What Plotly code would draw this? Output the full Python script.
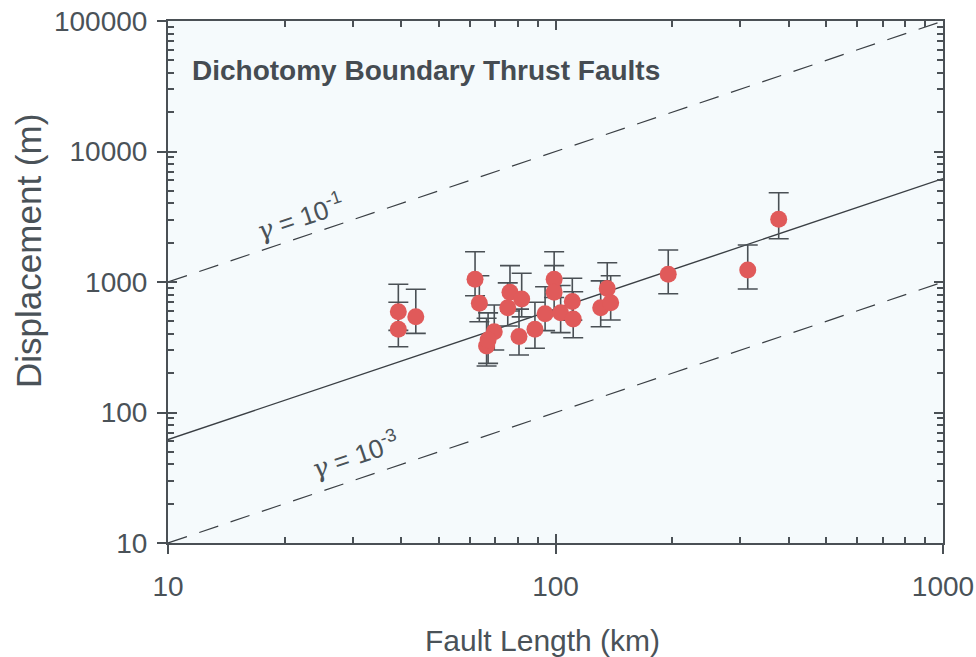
import plotly.graph_objects as go

# Fault data (length km, displacement m, upper/lower error bounds m)
fault_length_km = [39.3, 39.3, 43.6, 62.0, 63.6, 69.5, 66.4, 67.0, 76.3, 75.3,
                   81.8, 80.5, 88.5, 94.0, 99.2, 99.2, 103.1, 110.5, 111.1, 130.8,
                   136.0, 138.8, 195.4, 313.4, 376.7]
displacement_m = [592, 434, 542, 1049, 687, 416, 323, 359, 834, 635,
                  741, 383, 434, 570, 1049, 834, 582, 708, 520, 635,
                  893, 694, 1145, 1236, 3022]
disp_upper = [960, 699, 879, 1706, 1117, 666, 527, 580, 1336, 985,
              1166, 620, 700, 920, 1706, 1336, 940, 1067, 843, 1020,
              1406, 1117, 1759, 1922, 4832]
disp_lower = [426, 319, 404, 785, 496, 301, 227, 238, 600, 460,
              540, 276, 311, 424, 760, 600, 409, 510, 374, 454,
              640, 511, 813, 884, 2147]

x_range_km = [10, 1000]
y_range_m = [10, 100000]
x_major = [10, 100, 1000]
y_major = [10, 100, 1000, 10000, 100000]
gamma_ref = [1e-1, 1e-3]
gamma_fit = 6.2e-3
gamma_exponents = ["-1", "-3"]
gamma_label_pos = [(1.341, 3.500), (1.483, 1.676)]  # log10 L, log10 D

x_minor = [m * d for d in x_major[:-1] for m in range(2, 10)]
y_minor = [m * d for d in y_major[:-1] for m in range(2, 10)]

TXT = "#4a5258"
AX = "#4a5055"
FONT = "Liberation Sans, Arial, sans-serif"

fig = go.Figure()

for g in gamma_ref:
    fig.add_trace(go.Scatter(
        x=x_range_km, y=[g * L * 1000 for L in x_range_km], mode="lines",
        line=dict(color="#3a3f44", width=1.2, dash="20px,13px"),
        hoverinfo="skip", showlegend=False))

fig.add_trace(go.Scatter(
    x=x_range_km, y=[gamma_fit * L * 1000 for L in x_range_km], mode="lines",
    line=dict(color="#3a3f44", width=1.4), hoverinfo="skip", showlegend=False))

fig.add_trace(go.Scatter(
    x=fault_length_km, y=displacement_m, mode="markers",
    marker=dict(color="#e05a5a", size=17, line=dict(width=0)),
    error_y=dict(type="data", symmetric=False,
                 array=[u - d for u, d in zip(disp_upper, displacement_m)],
                 arrayminus=[d - l for d, l in zip(displacement_m, disp_lower)],
                 color=AX, thickness=1.6, width=10),
    showlegend=False))

# invisible traces for overlay axes (tick frames)
for xa, ya in [("x2", "y2"), ("x3", "y3")]:
    fig.add_trace(go.Scatter(x=x_range_km, y=y_range_m, xaxis=xa, yaxis=ya,
                             mode="markers", marker=dict(opacity=0),
                             hoverinfo="skip", showlegend=False))

for (lx, ly), ex in zip(gamma_label_pos, gamma_exponents):
    txt = ('<span style="font-family:DejaVu Serif"><i>γ</i></span> = 10<sup>'
           + ex + '</sup>')
    fig.add_annotation(x=lx, y=ly, xref="x", yref="y", text=txt, showarrow=False,
                       textangle=-18.6, font=dict(size=26, color=TXT, family=FONT))

fig.add_annotation(x=0.028, y=0.906, xref="paper", yref="paper",
                   text="<b>Dichotomy Boundary Thrust Faults</b>", showarrow=False,
                   xanchor="left", yanchor="middle",
                   font=dict(size=28, color="#454c52", family=FONT))

# axis titles placed as annotations to match their offset positions
fig.add_annotation(x=-0.181, y=0.559, xref="paper", yref="paper",
                   text="Displacement (m)", showarrow=False, textangle=-90,
                   xanchor="center", yanchor="middle",
                   font=dict(size=35, color=TXT, family=FONT))
fig.add_annotation(x=0.4826, y=-0.186, xref="paper", yref="paper",
                   text="Fault Length (km)", showarrow=False,
                   xanchor="center", yanchor="middle",
                   font=dict(size=30, color=TXT, family=FONT))

axis_common = dict(type="log", showgrid=False, zeroline=False, linecolor=AX,
                   linewidth=2, tickcolor=AX, tickwidth=1.5, automargin=False)

fig.update_layout(
    width=976, height=657,
    margin=dict(l=168, r=33, t=21, b=114),
    paper_bgcolor="white", plot_bgcolor="#f5fafc",
    font=dict(family=FONT, color=TXT),
    xaxis=dict(**axis_common, range=[1, 3], ticks="outside", ticklen=9,
               tickvals=x_major, ticktext=[str(v) for v in x_major],
               tickfont=dict(size=28, color=TXT), ticklabelstandoff=8),
    yaxis=dict(**axis_common, range=[1, 5], ticks="outside", ticklen=9,
               tickvals=y_major, ticktext=[str(v) for v in y_major],
               tickfont=dict(size=28, color=TXT), ticklabelstandoff=4),
    xaxis2=dict(**axis_common, range=[1, 3], overlaying="x", side="top",
                anchor="y", ticks="inside", ticklen=9, mirror="ticks",
                tickvals=x_major, showticklabels=False),
    yaxis2=dict(**axis_common, range=[1, 5], overlaying="y", side="right",
                anchor="x", ticks="inside", ticklen=9, mirror="ticks",
                tickvals=y_major, showticklabels=False),
    xaxis3=dict(**axis_common, range=[1, 3], overlaying="x", side="top",
                anchor="y", ticks="inside", ticklen=6, mirror="ticks",
                tickvals=x_minor, showticklabels=False),
    yaxis3=dict(**axis_common, range=[1, 5], overlaying="y", side="right",
                anchor="x", ticks="inside", ticklen=6, mirror="ticks",
                tickvals=y_minor, showticklabels=False),
)

fig.write_html("out.html")
